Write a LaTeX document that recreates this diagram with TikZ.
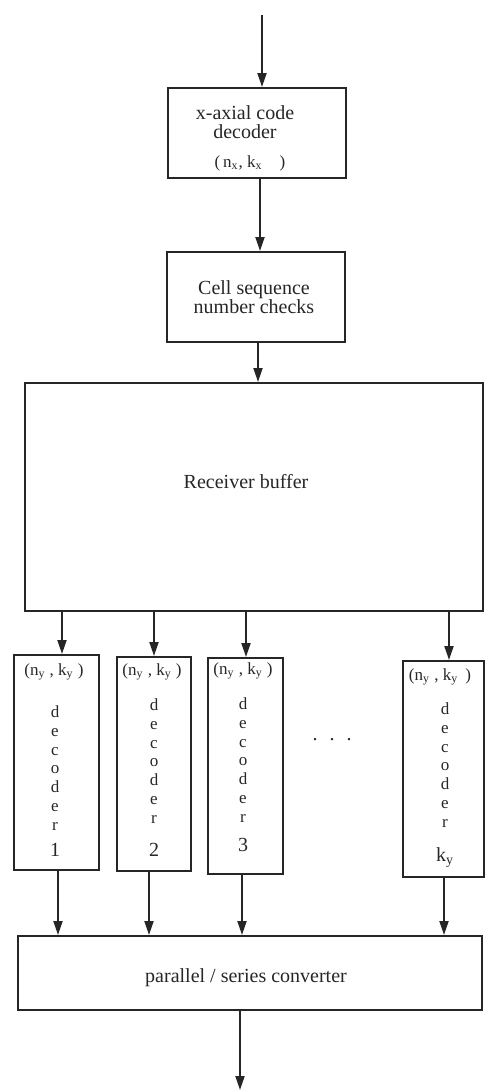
\documentclass[tikz,border=0pt]{standalone}
\usepackage{fontspec}
\setmainfont{Liberation Serif}
\usetikzlibrary{arrows.meta}
\definecolor{ink}{HTML}{262626}
\begin{document}
\begin{tikzpicture}[x=0.5pt,y=-0.5pt,
  box/.style={draw=ink, line width=1pt, inner sep=0pt},
  lbl/.style={text=ink, font=\fontsize{10}{9.6}\selectfont, align=center, inner sep=0pt},
  small/.style={text=ink, font=\fontsize{8.5}{9.4}\selectfont, align=center, inner sep=0pt},
  arr/.style={draw=ink, line width=1pt, -{Triangle[length=7pt,width=4.5pt]}}]
\useasboundingbox (0,0) rectangle (485,1092);
% top boxes
\node[box, minimum width=89pt, minimum height=45pt] (xdec) at (257,133) {};
\node[lbl] (xdect) at (245,122) {x-axial code\\decoder};
\node[small] (xdecp) at (250,163) {(\,n\textsubscript{x}, k\textsubscript{x}\quad)};
\node[box, minimum width=89pt, minimum height=45pt] (cell) at (256,297) {};
\node[lbl] (cellt) at (254,297) {Cell sequence\\number checks};
\node[box, minimum width=229pt, minimum height=114pt] (buf) at (254,497) {};
\node[lbl] (buft) at (246,482) {Receiver buffer};
% decoders
\node[box, minimum width=42.5pt, minimum height=107.5pt] (d1) at (56,762.5) {};
\node[box, minimum width=37pt, minimum height=107pt] (d2) at (154,764) {};
\node[box, minimum width=37.5pt, minimum height=108pt] (d3) at (245,766) {};
\node[box, minimum width=40.5pt, minimum height=108pt] (d4) at (443,769) {};
\node[small] (h1) at (54,672) {(n\textsubscript{y} , k\textsubscript{y} )};
\node[small] (h2) at (152,672) {(n\textsubscript{y} , k\textsubscript{y} )};
\node[small] (h3) at (243,671) {(n\textsubscript{y} , k\textsubscript{y} )};
\node[small] (h4) at (440,677) {(n\textsubscript{y} , k\textsubscript{y} \,)};
\node[small] (s1) at (55,768) {d\\e\\c\\o\\d\\e\\r};
\node[small] (s2) at (154,761) {d\\e\\c\\o\\d\\e\\r};
\node[small] (s3) at (243,760) {d\\e\\c\\o\\d\\e\\r};
\node[small] (s4) at (445,765) {d\\e\\c\\o\\d\\e\\r};
\node[lbl] (n1) at (55,850) {1};
\node[lbl] (n2) at (154,850) {2};
\node[lbl] (n3) at (243,845) {3};
\node[lbl] (n4) at (445,858) {k\textsubscript{y}};
\node[lbl] (dots) at (332,740) {.\hspace{6pt}.\hspace{6pt}.};
% converter
\node[box, minimum width=232pt, minimum height=37pt] (conv) at (250,973) {};
\node[lbl] (convt) at (246,978) {parallel / series converter};
% connectors
\coordinate (in) at (262,15);
\coordinate (out) at (240,1090);
\draw[arr] (in) -- (in |- xdec.north);
\draw[arr] ([xshift=1.5pt]xdec.south) -- ([xshift=1.5pt]xdec.south |- cell.north);
\draw[arr] ([xshift=1pt]cell.south) -- ([xshift=1pt]cell.south |- buf.north);
\draw[arr] ([xshift=3pt]d1.north |- buf.south) -- ([xshift=3pt]d1.north);
\draw[arr] (d2.north |- buf.south) -- (d2.north);
\draw[arr] ([xshift=0.5pt]d3.north |- buf.south) -- ([xshift=0.5pt]d3.north);
\draw[arr] ([xshift=3pt]d4.north |- buf.south) -- ([xshift=3pt]d4.north);
\draw[arr] ([xshift=1pt]d1.south) -- ([xshift=1pt]d1.south |- conv.north);
\draw[arr] ([xshift=-2.5pt]d2.south) -- ([xshift=-2.5pt]d2.south |- conv.north);
\draw[arr] ([xshift=-1.5pt]d3.south) -- ([xshift=-1.5pt]d3.south |- conv.north);
\draw[arr] ([xshift=0.5pt]d4.south) -- ([xshift=0.5pt]d4.south |- conv.north);
\draw[arr] (conv.south -| out) -- (out);
\end{tikzpicture}
\end{document}
